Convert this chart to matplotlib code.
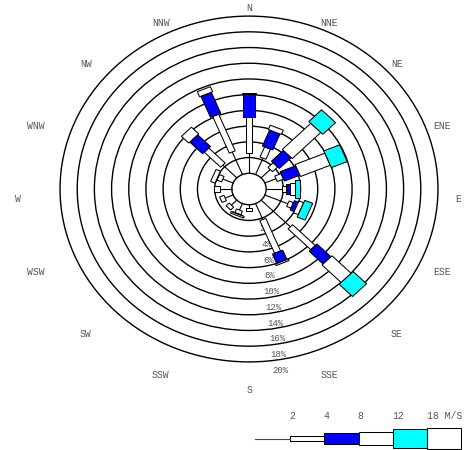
import numpy as np
import matplotlib
matplotlib.use('Agg')
import matplotlib.pyplot as plt
from matplotlib.patches import Polygon, Circle, Rectangle

# wind rose: percent frequency per direction and speed class
directions = ['N', 'NNE', 'NE', 'ENE', 'E', 'ESE', 'SE', 'SSE',
              'S', 'SSW', 'SW', 'WSW', 'W', 'WNW', 'NW', 'NNW']
below_2 = [2.55, 2.25, 1.5, 1.4, 1.8, 2.9, 4.8, 2.2, 0.45, 0.9, 0.9, 1.0, 1.4, 1.3, 2.3, 3.1]
spd_2_4 = [4.6, 1.4, 0.85, 0.8, 0.5, 0.55, 3.75, 4.5, 0.4, 0.5, 0.5, 0.55, 0.7, 0.6, 2.7, 5.05]
spd_4_8 = [2.9, 2.2, 1.95, 1.95, 0.45, 0.5, 2.3, 1.3, 0, 0.05, 0, 0, 0, 0.05, 2.1, 2.9]
spd_8_12 = [0.15, 0.6, 4.7, 3.75, 0.65, 0.6, 3.15, 0.2, 0, 0.2, 0, 0, 0, 0.55, 1.2, 0.7]
spd_12_18 = [0, 0, 2.1, 2.0, 0.55, 1.0, 2.2, 0, 0, 0, 0, 0, 0, 0, 0, 0]
spd_18_up = [0] * 16
ring_pcts = [2, 4, 6, 8, 10, 12, 14, 16, 18, 20]
legend_labels = ['2', '4', '8', '12', '18 M/S']

classes = [spd_2_4, spd_4_8, spd_8_12, spd_12_18, spd_18_up]
widths = [0.75, 1.3, 1.65, 2.3, 2.65]
colors = ['white', 'blue', 'white', 'cyan', 'white']
hub = 2.0
font = 'Liberation Mono'
txt_color = '#555555'

fig = plt.figure(figsize=(4.67, 4.5), dpi=100)
ax = fig.add_axes([0, 0, 1, 1])
ax.set_xlim(-28.99, 25.38)
ax.set_ylim(-33.21, 24.05)
ax.axis('off')

# rings and percent labels
ax.add_patch(Circle((0, 0), hub, fill=False, ec='black', lw=1.0, zorder=1))
for p in ring_pcts:
    r = hub + p
    ax.add_patch(Circle((0, 0), r, fill=False, ec='black', lw=1.0, zorder=1))
    ax.text(1.45 + 0.1 * r, -(r + 1.05), f'{p}%', ha='center', va='center',
            fontsize=6.5, color=txt_color, family=font, zorder=2)

# direction labels
for i, name in enumerate(directions):
    t = np.deg2rad(22.5 * i)
    s, c = np.sin(t), np.cos(t)
    x = (220 * s - 11 * abs(s)) / 8.59
    y = (-10 + 191 * c) / 7.86
    ax.text(x, y, name, ha='center', va='center', fontsize=7,
            color=txt_color, family=font)


def seg(t, r0, r1, w, color):
    u = np.array([np.sin(t), np.cos(t)])
    v = np.array([np.cos(t), -np.sin(t)]) * w / 2
    pts = [r0 * u + v, r1 * u + v, r1 * u - v, r0 * u - v]
    ax.add_patch(Polygon(pts, closed=True, fc=color, ec='black', lw=0.75, zorder=4))


for i in range(len(directions)):
    t = np.deg2rad(22.5 * i)
    r = hub + below_2[i]
    ax.plot([hub * np.sin(t), r * np.sin(t)], [hub * np.cos(t), r * np.cos(t)],
            color='black', lw=0.8, zorder=3)
    for vals, w, col in zip(classes, widths, colors):
        if vals[i] > 0:
            seg(t, r, r + vals[i], w, col)
            r += vals[i]

# speed legend
ly = -31.75
ax.plot([0.7, 4.77], [ly, ly], color='#444444', lw=0.8)
for j, (lab, w, col) in enumerate(zip(legend_labels, widths, colors)):
    x0 = 4.77 + 4 * j
    ax.add_patch(Rectangle((x0, ly - w / 2), 4 if j < 4 else 3.9, w, fc=col,
                           ec='black', lw=0.75, clip_on=False))
    ax.text(x0 - 0.1, -28.9, lab, ha='left', va='center', fontsize=7,
            color=txt_color, family=font)

fig.savefig('out.png', dpi=100)
